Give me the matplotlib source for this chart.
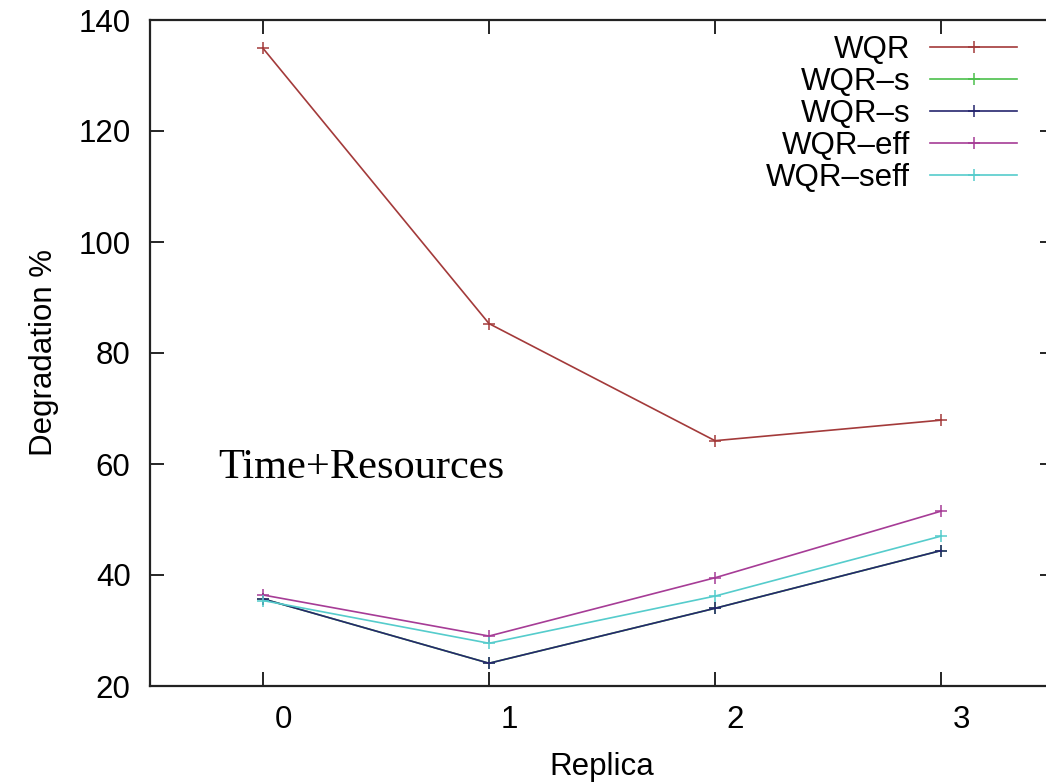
import matplotlib
matplotlib.use("Agg")
import matplotlib.pyplot as plt
from matplotlib.lines import Line2D
from matplotlib.transforms import ScaledTranslation

plt.rcParams['font.family'] = ['Liberation Sans', 'DejaVu Sans']

# Replica counts on the x axis
replicas = [0, 1, 2, 3]

# Degradation (%) per policy
wqr = [134.9, 85.3, 64.2, 67.9]
wqr_s_green = [35.7, 24.1, 34.0, 44.4]
wqr_s_blue = [35.7, 24.1, 34.0, 44.4]
wqr_eff = [36.4, 29.0, 39.5, 51.5]
wqr_seff = [35.4, 27.7, 36.2, 47.0]

series = [
    ("WQR", wqr, "#a33a3a"),
    ("WQR–s", wqr_s_green, "#4cc04c"),
    ("WQR–s", wqr_s_blue, "#26266e"),
    ("WQR–eff", wqr_eff, "#a63c96"),
    ("WQR–seff", wqr_seff, "#55cccc"),
]

y_ticks = [20, 40, 60, 80, 100, 120, 140]

W, H = 1046, 784
fig = plt.figure(figsize=(W / 100, H / 100), dpi=100)
ax = fig.add_axes([150 / W, 98 / H, 904 / W, 666 / H])

for label, vals, color in series:
    ax.plot(replicas, vals, color=color, lw=1.2, marker='+', ms=8, mew=1.1,
            label=label)

ax.set_xlim(-0.5, 3.5)
ax.set_ylim(20, 140)
ax.set_xticks(replicas)
ax.set_yticks(y_ticks)

fs = 22.5
ax.tick_params(direction='in', length=10, width=1.2, top=True, right=True,
               labelsize=fs, pad=14)
for sp in ax.spines.values():
    sp.set_linewidth(1.6)
    sp.set_color('#222222')

# nudge the x tick labels to the right of their ticks
shift = ScaledTranslation(0.2, 0, fig.dpi_scale_trans)
for lab in ax.get_xticklabels():
    lab.set_transform(lab.get_transform() + shift)

ax.set_xlabel("Replica", fontsize=fs, labelpad=12)
ax.set_ylabel("Degradation %", fontsize=fs, labelpad=14)

ax.text(-0.2, 57.5, "Time+Resources", family=['Liberation Serif'],
        fontsize=30.5, va='baseline', ha='left')

# key: right-aligned labels followed by a line sample with its marker
def fx(px):
    return px / W

def fy(py):
    return 1 - py / H

row0, row_step = 47, 32
text_right, line_l, line_r = 910, 930, 1017
for i, (label, vals, color) in enumerate(series):
    yc = row0 + row_step * i
    fig.text(fx(text_right), fy(yc + 11.5), label, fontsize=fs,
             ha='right', va='baseline')
    fig.add_artist(Line2D([fx(line_l), fx(line_r)], [fy(yc), fy(yc)],
                          transform=fig.transFigure, color=color, lw=1.2))
    fig.add_artist(Line2D([fx((line_l + line_r) / 2)], [fy(yc)],
                          transform=fig.transFigure, color=color,
                          marker='+', ms=8, mew=1.1, lw=0))

fig.savefig("out.png", dpi=100)
